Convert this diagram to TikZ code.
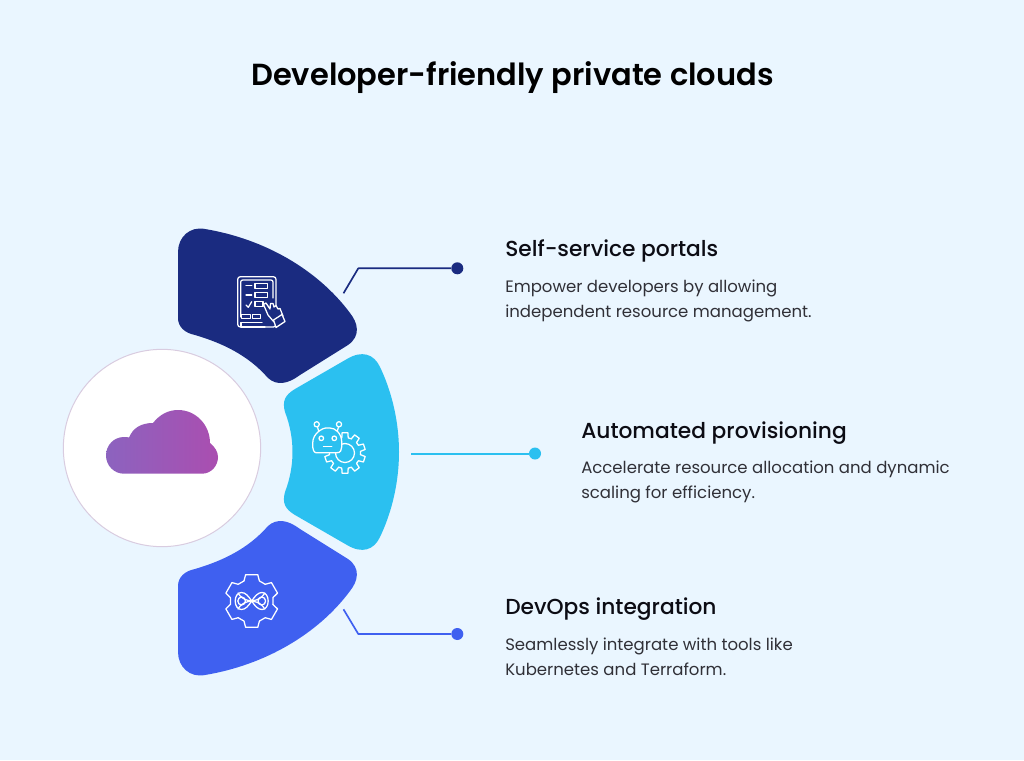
\documentclass[tikz,border=0pt]{standalone}
\usepackage{fontspec}
\setmainfont{Poppins}
\newfontfamily\headfont{Poppins Medium}
\newfontfamily\titlefont{Poppins SemiBold}
\definecolor{bgc}{HTML}{EAF6FF}
\definecolor{navyc}{HTML}{1A2B80}
\definecolor{skyc}{HTML}{2BC0F0}
\definecolor{bluec}{HTML}{3F60F0}
\definecolor{ringc}{HTML}{D9CCE0}
\definecolor{cloudl}{HTML}{8C63BF}
\definecolor{cloudr}{HTML}{AA4EB0}
\definecolor{inkc}{HTML}{0C0C14}
\tikzset{
  titletext/.style={anchor=base west,inner sep=0pt,text=black,font=\titlefont\fontsize{22.87pt}{28pt}\selectfont},
  headtext/.style={anchor=base west,inner sep=0pt,text=inkc,font=\headfont\fontsize{16.3pt}{18pt}\selectfont},
  bodytext/.style={anchor=base west,inner sep=0pt,text=inkc!85!white,font=\fontsize{12.4pt}{15pt}\selectfont},
  dotnode/.style={circle,inner sep=0pt,minimum size=9pt},
  iconline/.style={draw=white,line width=0.95pt,line join=round,line cap=round},
  wire/.style={line width=1.25pt,line join=round}
}
\newcommand{\gearshape}[8]{% cx cy rvalley rtip n halfTipAngle halfBaseAngle style
  \foreach \gi in {1,...,#5}{
    \pgfmathsetmacro{\ga}{(\gi-1)*360/#5+90}
    \pgfmathsetmacro{\gb}{\gi*360/#5+90}
    \draw[#8] ([shift={(#1,#2)}]{\ga-#7}:#3) -- ([shift={(#1,#2)}]{\ga-#6}:#4) -- ([shift={(#1,#2)}]{\ga+#6}:#4) -- ([shift={(#1,#2)}]{\ga+#7}:#3) -- ([shift={(#1,#2)}]{\gb-#7}:#3);
  }
}
\begin{document}
\begin{tikzpicture}[x=0.75pt,y=-0.75pt]
\useasboundingbox[fill=bgc] (0,0) rectangle (1024,760);

% title
\node[titletext] (title) at (251,85) {Developer-friendly private clouds};

% centre circle
\node[circle,draw=ringc,fill=white,line width=0.75pt,minimum size=148pt,inner sep=0pt] (hub) at (162,448) {};
\shade[left color=cloudl,right color=cloudr]
  (124,473.7) .. controls (114,473.7) and (106,465.5) .. (106,455.5)
  .. controls (106,445) and (114,437) .. (124,437)
  .. controls (125.5,437) and (127.5,437) .. (129,437.5)
  .. controls (133,428) and (141,423) .. (153,423)
  .. controls (160,414) and (169,410) .. (178,410)
  .. controls (196,410) and (210,425) .. (210,443)
  .. controls (215,447) and (218,452) .. (218,457)
  .. controls (218,466) and (211,473.7) .. (202,473.7) -- cycle;

% segments
\fill[navyc] (178,252) .. controls (178,237) and (190,226) .. (205,229)
  .. controls (265,239) and (318,270) .. (350,313)
  .. controls (358,323) and (361,336) .. (348,345)
  -- (300,375) .. controls (288,384) and (277,386) .. (268,378)
  .. controls (248,355) and (222,343) .. (195,335)
  .. controls (185,333) and (178,327) .. (178,318) -- cycle;
\fill[skyc] (347,359) .. controls (362,350) and (374,354) .. (380,367)
  .. controls (392,392) and (399,422) .. (399,452)
  .. controls (399,482) and (392,512) .. (380,537)
  .. controls (374,550) and (362,554) .. (347,545)
  -- (295,515) .. controls (285,509) and (282,503) .. (285,492)
  .. controls (295,466) and (295,438) .. (285,412)
  .. controls (282,401) and (285,395) .. (295,389) -- cycle;
\fill[bluec] (178,652) .. controls (178,667) and (190,678) .. (205,675)
  .. controls (265,665) and (318,634) .. (350,591)
  .. controls (358,581) and (361,568) .. (348,559)
  -- (300,529) .. controls (288,520) and (277,518) .. (268,526)
  .. controls (248,549) and (222,561) .. (195,569)
  .. controls (185,571) and (178,577) .. (178,586) -- cycle;

% self-service icon
\draw[iconline,rounded corners=2pt] (237.7,276.7) rectangle (276,327);
\draw[iconline,rounded corners=1.5pt] (240.7,317) -- (240.7,280) -- (273,280) -- (273,298);
\draw[iconline] (246,285.7) -- (251.7,285.7) (246,295) -- (251.7,295);
\draw[iconline] (255,283.3) rectangle (267.7,288.3) (255,292.7) rectangle (267.7,297.7) (255,301.7) rectangle (263,306.7);
\draw[iconline] (246,305) -- (248.3,307.3) -- (251.7,301.7);
\draw[iconline] (241.7,314.3) rectangle (250.7,318.3) (252.7,314.3) rectangle (260.7,318.3);
\draw[iconline] (265,327) -- (241,327) -- (241,322.7) -- (262,322.7);
\draw[iconline,fill=navyc] (263.5,304.5) -- (266,303) -- (270,309) -- (270.5,303.5) -- (273,303.5) -- (274,307) -- (276,305.5) -- (278,309) -- (280,308.5) -- (283,316) -- (274,322) -- (268,315) -- cycle;
\draw[iconline,fill=navyc] (273.5,320) -- (282,314.5) -- (285,321.5) -- (276,327.5) -- cycle;

% automated provisioning icon
\gearshape{345}{453}{15.5}{20.5}{10}{8}{12}{iconline}
\draw[iconline] (345,453) circle (9.5);
\draw[iconline,fill=skyc,rounded corners=1.5pt] (312.7,445) .. controls (312.7,433) and (323,428) .. (328,428) .. controls (335,428) and (342,433) .. (341.7,445) .. controls (341.7,450) and (340,452.5) .. (337,452.7) -- (318,452.7) .. controls (314,452.7) and (312.7,449) .. (312.7,445) -- cycle;
\draw[iconline] (316.7,424.3) circle (2.6) (339,424.3) circle (2.6);
\draw[iconline] (317.5,427) -- (318.5,430.5) (338.5,427) -- (337.5,430.5);
\draw[iconline] (321.3,438.3) circle (2.3) (334.3,438.3) circle (2.3);
\draw[iconline] (323.5,446.3) -- (331.7,446.3);

% devops icon
\gearshape{251.7}{601}{21.5}{27}{6}{13}{21}{iconline}
\draw[iconline] (238,593) arc[start angle=150,end angle=30,radius=15.5];
\draw[iconline] (238,609) arc[start angle=210,end angle=330,radius=15.5];
\draw[iconline] (251.7,601) .. controls (255,596) and (258,592.5) .. (262,592.5) .. controls (265.5,592.5) and (268.2,596) .. (268.2,601) .. controls (268.2,606) and (265.5,609.5) .. (262,609.5) .. controls (258,609.5) and (255,606) .. (251.7,601) .. controls (248.4,596) and (245.4,592.5) .. (241.4,592.5) .. controls (237.9,592.5) and (235.2,596) .. (235.2,601) .. controls (235.2,606) and (237.9,609.5) .. (241.4,609.5) .. controls (245.4,609.5) and (248.4,606) .. (251.7,601) -- cycle;
\draw[iconline] (241.6,601) ellipse (3.8 and 4) (261.8,601) ellipse (3.8 and 4);

% connectors
\coordinate (navyfoot) at (343.5,293.3);
\coordinate (navybend) at (358.3,268.3);
\node[dotnode,fill=navyc] (navydot) at (457.3,268.3) {};
\draw[wire,navyc] (navyfoot) -- (navybend) -- (navydot);
\coordinate (skyfoot) at (411,453.5);
\node[dotnode,fill=skyc] (skydot) at (535,453.5) {};
\draw[draw=skyc,line width=1.5pt] (skyfoot) -- (skydot);
\coordinate (bluefoot) at (343.5,609.3);
\coordinate (bluebend) at (358.3,634);
\node[dotnode,fill=bluec] (bluedot) at (457.3,634) {};
\draw[wire,bluec] (bluefoot) -- (bluebend) -- (bluedot);

% texts
\node[headtext] (h1) at (505,256) {Self-service portals};
\node[bodytext] (b1a) at (505,292) {Empower developers by allowing};
\node[bodytext] (b1b) at (505,317) {independent resource management.};
\node[headtext] (h2) at (581,438) {Automated provisioning};
\node[bodytext] (b2a) at (581,473) {Accelerate resource allocation and dynamic};
\node[bodytext] (b2b) at (581,498) {scaling for efficiency.};
\node[headtext] (h3) at (505,614) {DevOps integration};
\node[bodytext] (b3a) at (505,650) {Seamlessly integrate with tools like};
\node[bodytext] (b3b) at (505,675) {Kubernetes and Terraform.};
\end{tikzpicture}
\end{document}
